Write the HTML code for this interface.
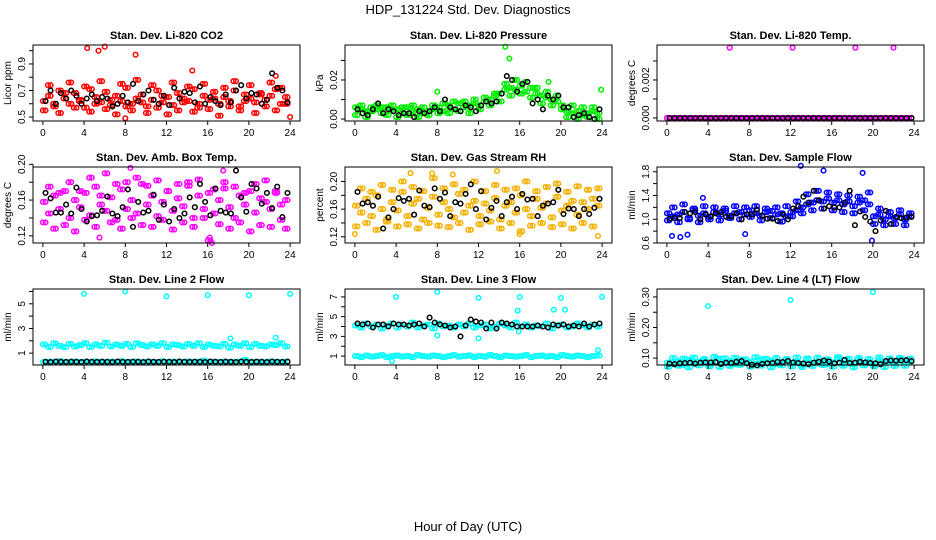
<!DOCTYPE html>
<html><head><meta charset="utf-8">
<style>
body{margin:0;background:#fff;}
svg{display:block;font-family:"Liberation Sans",sans-serif;}
</style></head>
<body>
<svg id="chart" width="936" height="540" viewBox="0 0 936 540">
<text x="468" y="14" font-size="13" text-anchor="middle">HDP_131224  Std. Dev. Diagnostics</text>
<text x="468" y="531" font-size="13" text-anchor="middle">Hour of Day (UTC)</text>
</svg>
<script>
const hoursA=[0,0.5,1,1.5,2,2.5,3,3.5,4,4.5,5,5.5,6,6.5,7,7.5,8,8.5,9,9.5,10,10.5,11,11.5,12,12.5,13,13.5,14,14.5,15,15.5,16,16.5,17,17.5,18,18.5,19,19.5,20,20.5,21,21.5,22,22.5,23,23.5];
const hoursB=[0.25,0.75,1.25,1.75,2.25,2.75,3.25,3.75,4.25,4.75,5.25,5.75,6.25,6.75,7.25,7.75,8.25,8.75,9.25,9.75,10.25,10.75,11.25,11.75,12.25,12.75,13.25,13.75,14.25,14.75,15.25,15.75,16.25,16.75,17.25,17.75,18.25,18.75,19.25,19.75,20.25,20.75,21.25,21.75,22.25,22.75,23.25,23.75];
const xTicks=[0,4,8,12,16,20,24];

const co2A=[.62,.66,.58,.70,.64,.60,.68,.63,.57,.71,.65,.61,.69,.59,.66,.62,.72,.60,.64,.67,.58,.63,.70,.61,.65,.59,.68,.64,.62,.71,.57,.66,.63,.69,.60,.65,.62,.70,.58,.67,.64,.61,.68,.63,.66,.71,.60,.65];
const co2B=[.55,.74,.60,.53,.68,.76,.57,.62,.73,.54,.60,.77,.56,.63,.52,.75,.58,.55,.78,.61,.53,.74,.57,.66,.52,.76,.55,.61,.73,.54,.60,.75,.56,.64,.51,.72,.58,.77,.55,.62,.74,.53,.67,.58,.76,.55,.72,.60];
const co2K=[.62,.70,.60,.68,.64,.70,.66,.60,.64,.67,.62,.65,.64,.58,.60,.66,.61,.75,.62,.67,.70,.63,.60,.66,.59,.72,.64,.69,.68,.61,.73,.60,.65,.62,.59,.67,.61,.70,.74,.64,.68,.67,.60,.63,.83,.72,.70,.61];
const co2OutX=[4.3,5.4,6.0,9.0,14.5,22.6,8.0,24];
const co2OutY=[1.02,1.0,1.03,0.97,0.85,0.81,0.49,0.50];

const presA=[0.006,0.005,0.004,0.006,0.005,0.003,0.006,0.004,0.005,0.003,0.006,0.004,0.005,0.003,0.004,0.005,0.006,0.004,0.007,0.005,0.008,0.006,0.007,0.008,0.007,0.009,0.010,0.012,0.013,0.015,0.016,0.015,0.017,0.014,0.016,0.013,0.012,0.011,0.010,0.009,0.005,0.004,0.003,0.004,0.002,0.003,0.004,0.003];
const presB=[0.002,0.007,0.001,0.004,0.007,0.006,0.002,0.007,0.001,0.006,0.002,0.007,0.001,0.006,0.002,0.007,0.003,0.008,0.003,0.009,0.004,0.009,0.003,0.010,0.005,0.011,0.007,0.013,0.009,0.018,0.012,0.020,0.013,0.019,0.011,0.016,0.008,0.014,0.007,0.012,0.007,0.001,0.007,0.000,0.006,0.001,0.006,0.000];
const presK=[0.005,0.003,0.002,0.005,0.008,0.003,0.005,0.004,0.002,0.003,0.003,0.001,0.004,0.003,0.004,0.006,0.004,0.010,0.006,0.005,0.004,0.007,0.006,0.004,0.007,0.009,0.008,0.009,0.013,0.022,0.020,0.014,0.018,0.019,0.008,0.010,0.005,0.012,0.010,0.012,0.006,0.006,0.001,0.002,0.003,0.001,0.000,0.005];
const presOutX=[14.6,15.0,8.0,18.8,23.9];
const presOutY=[0.037,0.031,0.014,0.019,0.015];

const tempA=[0,0,0,0,0,0,0,0,0,0,0,0,0,0,0,0,0,0,0,0,0,0,0,0,0,0,0,0,0,0,0,0,0,0,0,0,0,0,0,0,0,0,0,0,0,0,0,0];
const tempB=[0,0,0,0,0,0,0,0,0,0,0,0,0,0,0,0,0,0,0,0,0,0,0,0,0,0,0,0,0,0,0,0,0,0,0,0,0,0,0,0,0,0,0,0,0,0,0,0];
const tempK=[0,0,0,0,0,0,0,0,0,0,0,0,0,0,0,0,0,0,0,0,0,0,0,0,0,0,0,0,0,0,0,0,0,0,0,0,0,0,0,0,0,0,0,0,0,0,0,0];
const tempOutX=[6.1,12.2,18.3,22.0];
const tempOutY=[0.0037,0.0037,0.0037,0.0037];

const ambA=[.158,.145,.165,.150,.170,.140,.160,.152,.168,.143,.175,.155,.148,.163,.138,.172,.150,.160,.145,.178,.155,.165,.142,.158,.170,.148,.162,.153,.176,.140,.165,.150,.168,.145,.160,.173,.152,.140,.165,.155,.170,.146,.162,.158,.150,.168,.155,.160];
const ambB=[.135,.175,.128,.168,.132,.180,.125,.170,.138,.185,.130,.165,.190,.135,.178,.128,.180,.140,.185,.132,.176,.130,.182,.138,.170,.127,.178,.135,.180,.130,.183,.140,.115,.172,.133,.180,.128,.175,.135,.168,.125,.178,.132,.182,.130,.170,.138,.128];
const ambK=[.168,.162,.146,.146,.155,.145,.174,.150,.136,.142,.143,.148,.164,.145,.142,.152,.172,.130,.158,.146,.148,.166,.138,.155,.136,.150,.140,.145,.163,.152,.178,.158,.143,.173,.148,.146,.145,.193,.163,.147,.178,.173,.156,.168,.151,.175,.141,.168];
const ambOutX=[8.5,16.4,17.5,16.2,5.5];
const ambOutY=[.196,.112,.193,.118,.118];

const rhA=[.165,.155,.175,.150,.180,.160,.145,.170,.158,.185,.150,.168,.175,.145,.162,.178,.152,.170,.160,.148,.182,.155,.165,.172,.150,.168,.158,.176,.145,.165,.170,.155,.180,.160,.150,.175,.162,.168,.148,.178,.158,.165,.172,.152,.170,.160,.175,.165];
const rhB=[.135,.190,.140,.185,.130,.195,.142,.188,.135,.200,.138,.192,.132,.186,.140,.205,.136,.190,.134,.196,.140,.188,.130,.200,.138,.186,.142,.195,.132,.188,.140,.190,.128,.200,.136,.186,.140,.192,.134,.197,.138,.185,.132,.193,.140,.188,.135,.190];
const rhK=[.185,.168,.170,.165,.178,.132,.148,.160,.176,.172,.175,.152,.187,.165,.163,.190,.175,.184,.150,.170,.168,.182,.196,.160,.186,.145,.162,.172,.150,.170,.178,.160,.182,.174,.175,.150,.165,.168,.170,.188,.153,.161,.160,.150,.160,.153,.162,.175];
const rhOutX=[13.8,0,16,23.6,5.4,7.5,9.5];
const rhOutY=[.215,.124,.124,.121,.212,.212,.210];

const flowA=[1.10,1.05,1.08,1.12,1.02,1.15,1.06,1.10,1.04,1.12,1.08,1.14,1.06,1.10,1.12,1.08,1.15,1.10,1.06,1.12,1.14,1.08,1.10,1.05,1.12,1.15,1.20,1.25,1.28,1.32,1.30,1.35,1.28,1.32,1.25,1.30,1.22,1.28,1.32,1.25,1.05,1.08,1.00,1.05,1.02,1.08,1.00,1.05];
const flowB=[0.98,1.20,0.95,1.25,1.00,1.18,0.95,1.22,1.00,1.20,0.98,1.18,1.02,1.22,1.00,1.20,1.04,1.22,0.98,1.18,1.02,1.20,0.96,1.22,1.05,1.30,1.10,1.42,1.15,1.48,1.18,1.45,1.15,1.42,1.12,1.40,1.10,1.38,1.15,1.45,0.92,1.18,0.90,1.12,0.92,1.15,0.90,1.10];
const flowK=[1.01,1.02,1.02,1.12,1.10,1.12,1.00,1.08,1.05,1.10,1.12,1.04,1.05,1.10,1.00,1.08,1.08,1.16,1.06,1.01,1.01,0.97,1.08,1.00,1.18,1.22,1.38,1.28,1.48,1.32,1.18,1.22,1.20,1.20,1.28,1.48,0.90,1.13,1.04,0.96,0.80,0.98,1.14,0.92,1.04,1.02,1.03,1.04];
const flowOutX=[13.0,15.2,19.0,0.5,1.3,2.0,19.9,3.5,7.6];
const flowOutY=[1.9,1.82,1.78,0.72,0.70,0.74,0.64,1.36,0.75];

const l2A=[1.7,1.5,1.8,1.6,1.5,1.75,1.55,1.65,1.8,1.5,1.7,1.6,1.85,1.55,1.7,1.6,1.75,1.5,1.8,1.65,1.55,1.7,1.6,1.8,1.5,1.7,1.65,1.55,1.75,1.6,1.8,1.5,1.7,1.6,1.55,1.75,1.45,1.7,1.6,1.8,1.5,1.75,1.6,1.55,1.7,1.65,1.8,1.55];
const l2B=[0.28,0.32,0.25,0.35,0.3,0.27,0.33,0.29,0.31,0.26,0.34,0.3,0.28,0.32,0.27,0.35,0.3,0.29,0.33,0.26,0.31,0.3,0.28,0.34,0.29,0.32,0.27,0.3,0.33,0.28,0.31,0.4,0.29,0.3,0.27,0.33,0.3,0.28,0.32,0.45,0.3,0.29,0.31,0.27,0.33,0.3,0.28,0.32];
const l2K=[0.3,0.28,0.32,0.3,0.29,0.31,0.3,0.28,0.32,0.3,0.29,0.31,0.3,0.28,0.32,0.3,0.29,0.31,0.3,0.28,0.32,0.3,0.29,0.31,0.3,0.28,0.32,0.3,0.29,0.31,0.3,0.28,0.32,0.3,0.29,0.31,0.3,0.28,0.32,0.3,0.29,0.31,0.3,0.28,0.32,0.3,0.29,0.31];
const l2OutX=[4,8,12,16,20,24,18.2,22.6];
const l2OutY=[5.8,6.0,5.6,5.7,5.7,5.8,2.2,2.25];

const l3A=[4.1,3.9,4.3,4.0,4.2,3.8,4.1,4.3,3.9,4.2,4.0,4.4,3.9,4.1,4.2,3.8,4.3,4.0,4.1,3.9,4.2,4.0,4.3,3.9,4.1,4.2,3.8,4.0,4.3,4.1,3.9,4.4,4.0,4.2,3.9,4.1,4.0,4.3,3.8,4.1,4.2,3.9,4.0,4.3,4.1,3.9,4.2,4.0];
const l3B=[1.0,0.9,1.05,0.95,1.0,1.1,0.9,1.0,1.05,0.95,1.0,0.9,1.1,1.0,0.95,1.05,1.0,0.9,1.0,1.1,0.95,1.0,1.05,0.9,1.0,0.95,1.1,1.0,0.9,1.05,1.0,0.95,1.0,1.1,0.9,1.0,1.05,0.95,1.0,0.9,1.1,1.0,0.95,1.05,1.0,0.9,1.0,1.05];
const l3K=[4.3,4.2,4.3,3.9,4.2,4.2,4.0,4.3,4.2,4.2,4.1,4.2,4.3,4.0,4.9,4.4,4.2,4.1,3.9,4.0,3.0,4.1,4.7,4.5,4.4,3.8,4.4,3.8,4.4,4.3,4.2,4.0,4.0,4.0,4.0,4.1,4.0,3.9,4.2,4.1,4.2,4.0,4.1,4.0,4.3,4.0,4.2,4.3];
const l3OutX=[4,8,12,16,20,24,8,12,15.8,19.3,20.4,23.6,3.6,15.9];
const l3OutY=[7.0,7.5,6.9,7.0,6.9,7.0,3.1,2.8,5.6,5.7,5.7,1.6,0.5,3.5];

const l4A=[.085,.080,.090,.078,.095,.082,.088,.092,.080,.086,.098,.083,.090,.079,.094,.085,.088,.081,.096,.084,.090,.080,.087,.093,.082,.089,.078,.095,.084,.088,.091,.080,.086,.097,.083,.089,.081,.094,.085,.088,.080,.092,.084,.090,.082,.095,.086,.089];
const l4B=[.072,.100,.075,.098,.070,.102,.076,.097,.073,.104,.071,.099,.074,.101,.078,.096,.072,.103,.075,.098,.070,.100,.076,.097,.073,.102,.071,.099,.074,.101,.077,.096,.072,.103,.075,.098,.070,.100,.076,.097,.073,.102,.071,.099,.074,.101,.075,.098];
const l4K=[.082,.080,.083,.084,.085,.082,.085,.086,.086,.087,.081,.085,.084,.088,.090,.083,.078,.076,.081,.083,.084,.088,.087,.090,.086,.084,.082,.080,.085,.088,.092,.089,.083,.085,.094,.084,.085,.088,.086,.084,.083,.080,.090,.092,.091,.092,.093,.090];
const l4OutX=[4,12,20];
const l4OutY=[.27,.29,.316];

const NS='http://www.w3.org/2000/svg';
const svg=document.getElementById('chart');
const colL=[33,345,657], rowT=[45,167,289], W=267, H=76;
const panels=[
 {name:'co2',title:'Stan. Dev. Li-820 CO2',ylab:'Licor ppm',c:0,r:0,ymin:0.47,ymax:1.043,ticks:[0.5,0.6,0.7,0.8,0.9,1.0],labs:['0.5','','0.7','','0.9',''],col:'#ff0000',A:co2A,B:co2B,K:co2K,ox:co2OutX,oy:co2OutY},
 {name:'pressure',title:'Stan. Dev. Li-820 Pressure',ylab:'kPa',c:1,r:0,ymin:-0.001,ymax:0.0379,ticks:[0,0.01,0.02,0.03],labs:['0.00','','0.02',''],col:'#00ee00',A:presA,B:presB,K:presK,ox:presOutX,oy:presOutY},
 {name:'temp',title:'Stan. Dev. Li-820 Temp.',ylab:'degrees C',c:2,r:0,ymin:-0.00016,ymax:0.00384,ticks:[0,0.001,0.002,0.003],labs:['0.000','','0.002',''],col:'#ff00ff',A:tempA,B:tempB,K:tempK,ox:tempOutX,oy:tempOutY},
 {name:'amb-box-temp',title:'Stan. Dev. Amb. Box Temp.',ylab:'degrees C',c:0,r:1,ymin:0.112,ymax:0.197,ticks:[0.12,0.14,0.16,0.18,0.2],labs:['0.12','','0.16','','0.20'],col:'#ff00ff',A:ambA,B:ambB,K:ambK,ox:ambOutX,oy:ambOutY},
 {name:'gas-rh',title:'Stan. Dev. Gas Stream RH',ylab:'percent',c:1,r:1,ymin:0.111,ymax:0.221,ticks:[0.12,0.14,0.16,0.18,0.2],labs:['0.12','','0.16','','0.20'],col:'#f5b000',A:rhA,B:rhB,K:rhK,ox:rhOutX,oy:rhOutY},
 {name:'sample-flow',title:'Stan. Dev. Sample Flow',ylab:'ml/min',c:2,r:1,ymin:0.6,ymax:1.88,ticks:[0.6,0.8,1.0,1.2,1.4,1.6,1.8],labs:['0.6','','1.0','','1.4','','1.8'],col:'#0000ff',A:flowA,B:flowB,K:flowK,ox:flowOutX,oy:flowOutY},
 {name:'line2-flow',title:'Stan. Dev. Line 2 Flow',ylab:'ml/min',c:0,r:2,ymin:0.04,ymax:6.2,ticks:[1,2,3,4,5,6],labs:['1','','3','','5',''],col:'#00ffff',A:l2A,B:l2B,K:l2K,ox:l2OutX,oy:l2OutY},
 {name:'line3-flow',title:'Stan. Dev. Line 3 Flow',ylab:'ml/min',c:1,r:2,ymin:0.1,ymax:7.8,ticks:[1,2,3,4,5,6,7],labs:['1','','3','','5','','7'],col:'#00ffff',A:l3A,B:l3B,K:l3K,ox:l3OutX,oy:l3OutY},
 {name:'line4-flow',title:'Stan. Dev. Line 4 (LT) Flow',ylab:'ml/min',c:2,r:2,ymin:0.0774,ymax:0.326,ticks:[0.1,0.15,0.2,0.25,0.3],labs:['0.10','','0.20','','0.30'],col:'#00ffff',A:l4A,B:l4B,K:l4K,ox:l4OutX,oy:l4OutY}
];
function mk(tag,attrs,parent){const e=document.createElementNS(NS,tag);for(const k in attrs)e.setAttribute(k,attrs[k]);parent.appendChild(e);return e;}
panels.forEach(p=>{
 const L=colL[p.c], T=rowT[p.r], B=T+H;
 const xs=v=>L+(v+0.96)/25.92*W;
 const ys=v=>B-(v-p.ymin)/(p.ymax-p.ymin)*H;
 const g=mk('g',{},svg);
 
 
 const t=mk('text',{x:L+W/2,y:T-6,'font-size':11,'font-weight':'bold','text-anchor':'middle'},g);
 t.textContent=p.title;
 
 
 const pts=mk('g',{fill:'none','stroke-width':1.5},g);
 
 
 const dot=(x,y,col)=>{
  const c=mk('circle',{cx:xs(x).toFixed(1),cy:ys(y).toFixed(1),r:2.3,stroke:col},pts);
  
  
 };
 p.A.forEach((v,i)=>dot(hoursA[i],v,p.col));
 p.A.forEach((v,i)=>dot(hoursB[i],v,p.col));
 p.B.forEach((v,i)=>dot(hoursB[i],v,p.col));
 p.B.forEach((v,i)=>dot(hoursA[i],v,p.col));
 p.ox.forEach((x,i)=>dot(x,p.oy[i],p.col));
 p.K.forEach((v,i)=>dot(hoursB[i],v,'#000'));
 const box=mk('rect',{x:L,y:T,width:W,height:H,fill:'none',stroke:'#000','stroke-width':1},g);
 
 
 const xa=mk('g',{'font-size':10,'text-anchor':'middle'},g);
 
 
 mk('line',{x1:xs(0),x2:xs(24),y1:B,y2:B,stroke:'#000'},xa);
 xTicks.forEach(v=>{
  mk('line',{x1:xs(v),x2:xs(v),y1:B,y2:B+4,stroke:'#000'},xa);
  const tl=mk('text',{x:xs(v),y:B+15},xa);tl.textContent=v;
 });
 const ya=mk('g',{'font-size':10,'text-anchor':'middle'},g);
 
 
 mk('line',{x1:L,x2:L,y1:ys(p.ticks[0]),y2:ys(p.ticks[p.ticks.length-1]),stroke:'#000'},ya);
 p.ticks.forEach((v,i)=>{
  mk('line',{x1:L-4,x2:L,y1:ys(v),y2:ys(v),stroke:'#000'},ya);
  if(p.labs[i]){const tl=mk('text',{x:L-8,y:ys(v),transform:`rotate(-90 ${L-8} ${ys(v)})`},ya);tl.textContent=p.labs[i];}
 });
 const yl=mk('text',{x:L-22,y:T+H/2,'font-size':10,'text-anchor':'middle',transform:`rotate(-90 ${L-22} ${T+H/2})`},g);
 yl.textContent=p.ylab;
 
 
});
</script>
</body></html>
